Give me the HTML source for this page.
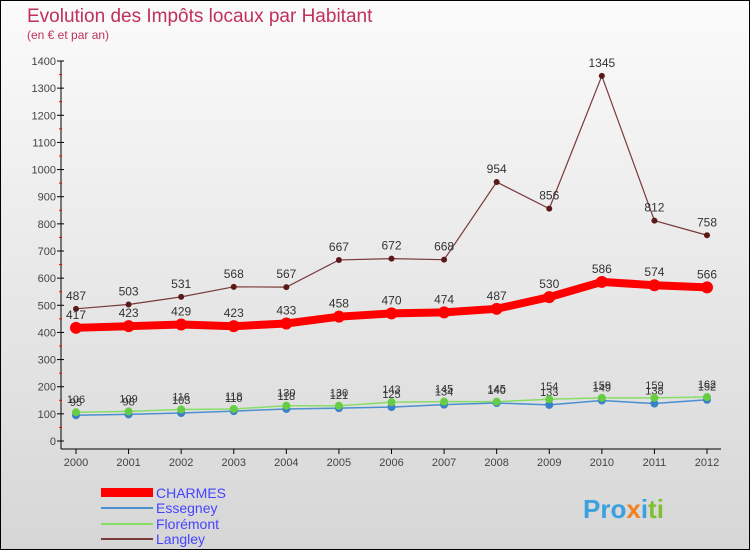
<!DOCTYPE html>
<html><head><meta charset="utf-8"><style>
body{margin:0;}
#wrap{position:relative;width:748px;height:548px;border:1px solid #000;background:linear-gradient(#fbfbfb,#d6d6d6);font-family:"Liberation Sans",sans-serif;overflow:hidden}
</style></head><body>
<div id="wrap">
<svg id="chart" width="748" height="548" style="position:absolute;left:0;top:0">
<text x="26" y="21" font-size="19" fill="#c0305a">Evolution des Impôts locaux par Habitant</text>
<text x="26" y="38" font-size="12" fill="#c0305a">(en € et par an)</text>
<g id="axes"></g><g id="series"></g>
<g>
<rect x="100" y="487" width="52" height="9" fill="#ff0000"/>
<text x="155" y="497" font-size="14" fill="#4444ff">CHARMES</text>
<rect x="100" y="506" width="52" height="2" fill="#4a90d0"/>
<text x="155" y="512" font-size="14" fill="#4444ff">Essegney</text>
<rect x="100" y="522" width="52" height="2" fill="#88dd66"/>
<text x="155" y="528" font-size="14" fill="#4444ff">Florémont</text>
<rect x="100" y="537" width="52" height="2" fill="#7a3a3a"/>
<text x="155" y="543" font-size="14" fill="#4444ff">Langley</text>
</g>
<text x="582" y="517" font-size="26" font-weight="bold"><tspan fill="#3aa0e0">Pro</tspan><tspan fill="#f08020">x</tspan><tspan fill="#3aa0e0">i</tspan><tspan fill="#80c030">ti</tspan></text>
</svg>
</div>
<script>
const years=[2000,2001,2002,2003,2004,2005,2006,2007,2008,2009,2010,2011,2012];
const charmes=[417,423,429,423,433,458,470,474,487,530,586,574,566];
const essegney=[95,98,103,110,118,121,125,134,140,133,149,138,152];
const floremont=[106,109,116,118,130,130,143,145,145,154,159,159,162];
const langley=[487,503,531,568,567,667,672,668,954,856,1345,812,758];
const yTicks=[0,100,200,300,400,500,600,700,800,900,1000,1100,1200,1300,1400];
const NS="http://www.w3.org/2000/svg";
const xs=i=>75+i*(706-75)/(years.length-1);
const ys=v=>440-v*380/1400;
function mk(t,a,p){const e=document.createElementNS(NS,t);for(const k in a)e.setAttribute(k,a[k]);p.appendChild(e);return e;}
const ax=document.getElementById('axes');
const yl=mk('line',{x1:60,y1:60,x2:60,y2:448,stroke:'#000'},ax);


const xl=mk('line',{x1:60,y1:448,x2:720,y2:448,stroke:'#000'},ax);


yTicks.forEach(v=>{
  mk('line',{x1:56,y1:ys(v),x2:63,y2:ys(v),stroke:'#000'},ax);
  if(v<1400)mk('line',{x1:58,y1:ys(v+50),x2:61,y2:ys(v+50),stroke:'#f00'},ax);
  const t=mk('text',{x:55,y:ys(v)+4,'text-anchor':'end','font-size':11,fill:'#444'},ax);
  
  
  t.textContent=v;
});
years.forEach((y,i)=>{
  mk('line',{x1:xs(i),y1:448,x2:xs(i),y2:453,stroke:'#000'},ax);
  const t=mk('text',{x:xs(i),y:465,'text-anchor':'middle','font-size':11,fill:'#444'},ax);
  
  
  t.textContent=y;
});
const sg=document.getElementById('series');
function series(data,name,color,w,r,dot,fs){
  const pts=data.map((v,i)=>xs(i)+','+ys(v)).join(' ');
  const l=mk('polyline',{points:pts,fill:'none',stroke:color,'stroke-width':w},sg);
  
  
  data.forEach((v,i)=>{
    const c=mk('circle',{cx:xs(i),cy:ys(v),r:r,fill:dot},sg);
    
    
    const t=mk('text',{x:xs(i),y:ys(v)-9,'text-anchor':'middle','font-size':fs,fill:'#333'},sg);
    
    
    t.textContent=v;
  });
}
series(essegney,'essegney','#4a90d0',1.5,4,'#3a80c8',11);
series(floremont,'floremont','#88dd66',1.5,4,'#66cc44',11);
series(langley,'langley','#7a3a3a',1.2,3,'#5a1a1a',12);
series(charmes,'charmes','#ff0000',8,6,'#ff0000',12);
</script>
</body></html>
